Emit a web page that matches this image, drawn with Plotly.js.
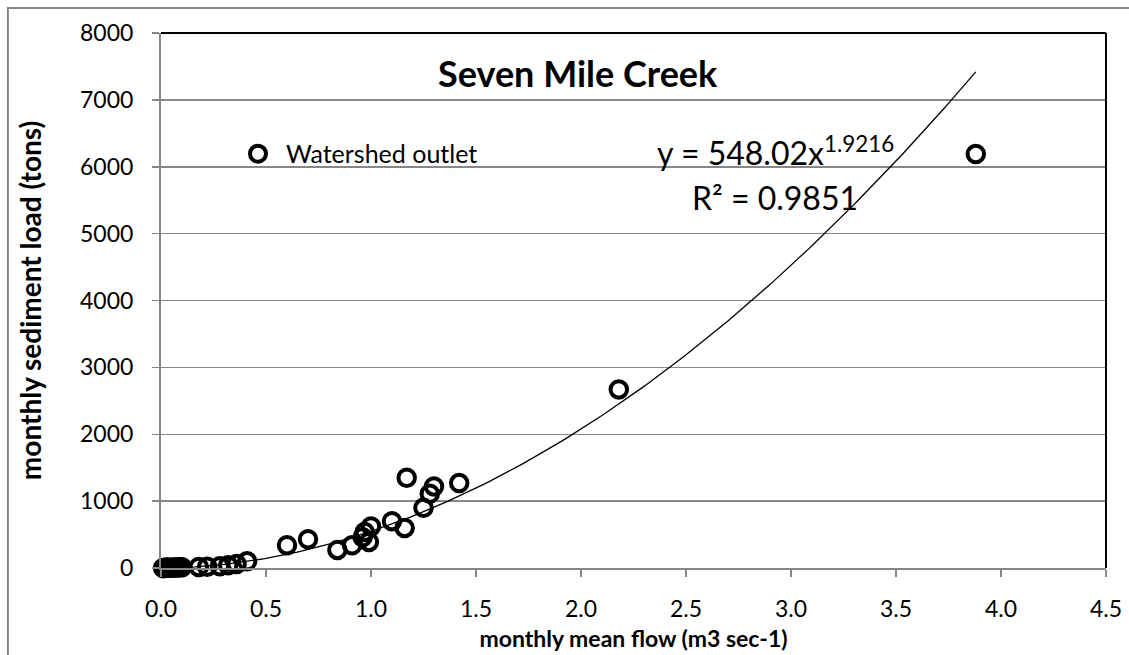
<!DOCTYPE html>
<html>
<head>
<meta charset="utf-8">
<script src="https://cdn.plot.ly/plotly-3.0.1.min.js"></script>
<style>html,body{margin:0;padding:0;background:#fff;}#chart{width:1129px;height:655px;}</style>
</head>
<body>
<div id="chart"></div>
<script>
// Monthly mean flow (m3 sec-1)
var flow = [0.01,0.015,0.02,0.025,0.03,0.035,0.04,0.05,0.06,0.07,0.08,0.09,0.10,
            0.18,0.22,0.28,0.32,0.36,0.41,
            0.60,0.70,0.84,0.91,0.96,0.97,0.99,1.00,1.10,1.16,1.17,1.25,1.28,1.30,1.42,2.18,3.88];
// Monthly sediment load (tons)
var load = [1,1,2,2,3,3,4,5,6,8,9,11,13,
            15,20,25,40,60,100,
            340,430,270,340,460,540,390,620,700,600,1350,900,1110,1220,1270,2670,6190];
// Power trendline coefficients (y = a x^b)
var fitA = 548.02, fitB = 1.9216, fitR2 = 0.9851;
var seriesName = 'Watershed outlet';
var chartTitle = 'Seven Mile Creek';
var xTitle = 'monthly mean flow (m3 sec-1)';
var yTitle = 'monthly sediment load (tons)';

var xmin = Math.min.apply(null, flow), xmax = Math.max.apply(null, flow);
var tx = [], ty = [];
for (var i = 0; i <= 200; i++) {
  var x = xmin + (xmax - xmin) * i / 200;
  tx.push(x); ty.push(fitA * Math.pow(x, fitB));
}

var FONT = 'Lato, "Open Sans", sans-serif';
var traces = [
  {x: tx, y: ty, mode: 'lines', line: {color: '#000', width: 1.3}, showlegend: false, hoverinfo: 'skip'},
  {x: flow, y: load, mode: 'markers', name: seriesName, cliponaxis: false,
   marker: {symbol: 'circle-open', size: 16.5, color: '#000', line: {color: '#000', width: 4}}}
];

var layout = {
  width: 1129, height: 655,
  margin: {l: 161, r: 23, t: 33, b: 87},
  paper_bgcolor: '#fff', plot_bgcolor: '#fff',
  font: {family: FONT, color: '#000', size: 20},
  showlegend: true,
  legend: {x: 0.073, y: 0.774, xanchor: 'left', yanchor: 'middle', bgcolor: 'rgba(0,0,0,0)',
           itemwidth: 46, font: {family: FONT, size: 25, color: '#000'}},
  xaxis: {range: [0, 4.5], dtick: 0.5, tick0: 0, tickformat: '.1f', showgrid: false, zeroline: false,
          showline: true, linecolor: '#868686', linewidth: 2, ticks: 'outside', ticklen: 7, tickwidth: 1.5,
          tickcolor: '#868686', tickfont: {family: FONT, size: 23, color: '#000'}, ticklabelstandoff: 12,
          title: {text: '<b>' + xTitle + '</b>', font: {family: FONT, size: 23, color: '#000'}, standoff: 10}},
  yaxis: {range: [0, 8000], dtick: 1000, tick0: 0, showgrid: true, gridcolor: '#878787', gridwidth: 1.5,
          zeroline: false, showline: true, linecolor: '#868686', linewidth: 2, ticks: 'outside', ticklen: 7,
          tickwidth: 1.5, tickcolor: '#868686', tickfont: {family: FONT, size: 23, color: '#000'},
          ticklabelstandoff: 14,
          title: {text: '<b>' + yTitle + '</b>', font: {family: FONT, size: 28, color: '#000'}, standoff: 30}},
  shapes: [
    {type: 'rect', xref: 'paper', yref: 'paper', x0: -0.162, x1: 2, y0: -1, y1: 1.0467,
     line: {color: '#8a8a8a', width: 2}, fillcolor: 'rgba(0,0,0,0)', layer: 'below'},
    {type: 'line', xref: 'paper', yref: 'paper', x0: 0, x1: 1, y0: 1, y1: 1, line: {color: '#000', width: 2}},
    {type: 'line', xref: 'paper', yref: 'paper', x0: 1, x1: 1, y0: 0, y1: 1, line: {color: '#000', width: 2}}
  ],
  annotations: [
    {xref: 'paper', yref: 'paper', x: 0.441, y: 0.925, text: '<b>' + chartTitle + '</b>', showarrow: false,
     font: {family: FONT, size: 36, color: '#000'}, xanchor: 'center', yanchor: 'middle'},
    {xref: 'paper', yref: 'paper', x: 0.650, y: 0.78, text: 'y = ' + fitA.toFixed(2) + 'x<sup>' + fitB + '</sup>',
     showarrow: false, font: {family: FONT, size: 32, color: '#000'}, xanchor: 'center', yanchor: 'middle'},
    {xref: 'paper', yref: 'paper', x: 0.650, y: 0.693, text: 'R² = ' + fitR2,
     showarrow: false, font: {family: FONT, size: 32, color: '#000'}, xanchor: 'center', yanchor: 'middle'}
  ]
};

Plotly.newPlot('chart', traces, layout, {displayModeBar: false, staticPlot: true});
</script>
</body>
</html>
